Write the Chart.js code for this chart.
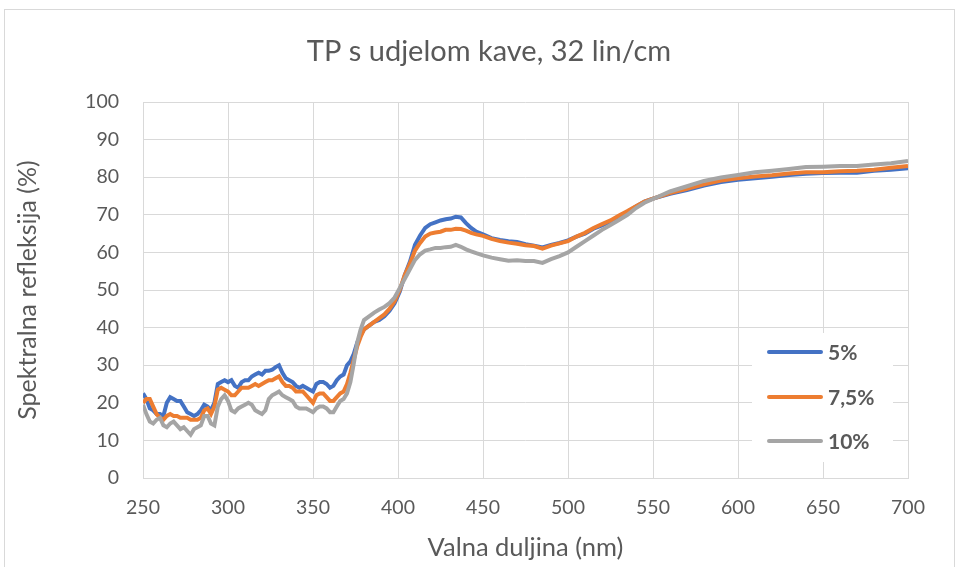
<!DOCTYPE html>
<html>
<head>
<meta charset="utf-8">
<script src="https://cdn.jsdelivr.net/npm/chart.js@4/dist/chart.umd.min.js"></script>
<style>
  html, body { margin: 0; padding: 0; background: #ffffff; }
  #wrap { width: 959px; height: 567px; position: relative; }
</style>
</head>
<body>
<div id="wrap"><canvas id="c" width="959" height="567"></canvas></div>
<script>
const chartTitle = "TP s udjelom kave, 32 lin/cm";
const xTitle = "Valna duljina (nm)";
const yTitle = "Spektralna refleksija (%)";
const seriesLabels = ["5%", "7,5%", "10%"];
const xTicks = [250, 300, 350, 400, 450, 500, 550, 600, 650, 700];
const yTicks = [0, 10, 20, 30, 40, 50, 60, 70, 80, 90, 100];

const wavelengths = [
  250,252,254,256,258,260,262,264,266,268,270,272,274,276,278,280,282,284,286,288,
  290,292,294,296,298,300,302,304,306,308,310,312,314,316,318,320,322,324,326,328,
  330,332,334,336,338,340,342,344,346,348,350,352,354,356,358,360,362,364,366,368,
  370,372,374,376,378,380,383,386,389,392,395,398,401,404,407,410,413,416,419,422,
  425,428,431,434,437,440,443,446,450,455,460,465,470,475,480,485,490,495,500,505,
  510,515,520,525,530,535,540,545,550,560,570,580,590,600,610,620,630,640,650,660,
  670,680,690,700
];

const r5 = [
  22.5,21,18.5,18,17,17,16.5,20,21.5,21,20.5,20.5,19,17.5,17,16.5,17,18,19.5,19,
  18,20,25,25.5,26,25.5,26,24.5,24,25.5,26,26,27,27.5,28,27.5,28.5,28.5,28.8,29.5,
  30,28,26.5,26,25.5,24.5,24,24.5,24,23.5,23,25,25.5,25.5,25,24,24.5,26,27,27.5,
  30,31,33,36,38,39.5,40.5,41.5,42,43,44.5,46.5,49.5,54,57.5,62,64.5,66.5,67.5,68,
  68.5,68.8,69,69.5,69.3,67.8,66.5,65.5,64.8,63.8,63.3,63,62.8,62.2,61.8,61.3,62,62.5,63.2,64.2,
  65,66.3,67.2,68.2,69.5,70.8,72.2,73.5,74.3,75.6,76.6,77.8,78.7,79.3,79.7,80.1,80.6,80.9,81.1,81.2,
  81.2,81.7,82,82.4
];

const r75 = [
  20,21,21,19,17,16,15.5,16.5,17,16.5,16.5,16,16,16,15.5,15.5,15.5,16,18,18.5,
  17,19,23.5,24,23.5,23,22,22,23,24,24,24,24.5,25,24.5,25,25.5,26,26,26.5,
  27,25.5,24.5,24.5,24,23,23,23,22,21,20,22,22.5,22.5,21.5,20.5,20.5,21.5,22.5,23,
  25,28,31.5,35,37.5,39.5,40.5,41.5,42.5,43.5,45,47,50,54,57,60.5,62.5,64.2,65,65.3,
  65.5,66,66,66.3,66.2,65.8,65.2,64.8,64.4,63.6,63,62.6,62.3,61.9,61.7,61,61.8,62.4,63,64.2,
  65.2,66.5,67.5,68.5,69.8,71,72.3,73.5,74.3,75.8,76.9,78.1,79.1,79.7,80.2,80.5,81,81.3,81.3,81.6,
  81.7,82,82.5,83
];

const r10 = [
  19.5,17,15,14.5,15.5,16,14,13.5,14.5,15,14,13,13.5,12.5,11.5,13,13.5,14,16.5,16.5,
  14.5,14,19,21,22,20.5,18,17.5,18.5,19,19.5,20,19.5,18,17.5,17,18,21,22,22.5,
  23,22,21.5,21,20.5,19,18.5,18.5,18.5,18,17.5,18.5,19,19,18.5,17.5,17.5,19,20.5,21,
  22.5,25.5,30.5,36,39.5,42,43,44,44.8,45.5,46.5,48,50.5,53,55.5,58,59.5,60.5,60.8,61.2,
  61.2,61.4,61.5,62,61.5,60.8,60.3,59.8,59.2,58.6,58.2,57.8,57.9,57.7,57.7,57.2,58.2,59,60,61.5,
  63,64.5,66,67.3,68.6,70,71.8,73.2,74.2,76.2,77.6,79,79.9,80.6,81.3,81.7,82.2,82.7,82.8,83,
  83,83.4,83.7,84.3
];

const colors = ["#4472C4", "#ED7D31", "#A5A5A5"];
const seriesValues = [r5, r75, r10];

const datasets = seriesValues.map((vals, i) => ({
  label: seriesLabels[i],
  data: wavelengths.map((w, j) => ({ x: w, y: vals[j] })),
  borderColor: colors[i],
  backgroundColor: colors[i],
  borderWidth: 4,
  pointRadius: 0,
  tension: 0,
  fill: false,
  order: 3 - i
}));

const textColor = "#595959";
const gridColor = "#D9D9D9";
const fontFamily = "Lato, 'Open Sans', sans-serif";

const bgPlugin = {
  id: 'bg',
  beforeDraw(chart) {
    const ctx = chart.ctx;
    ctx.save();
    ctx.fillStyle = '#ffffff';
    ctx.fillRect(0, 0, chart.width, chart.height);
    ctx.strokeStyle = gridColor;
    ctx.lineWidth = 1;
    ctx.strokeRect(4.5, 9.5, 950, 570);
    ctx.fillStyle = textColor;
    ctx.font = "29px " + fontFamily;
    ctx.textAlign = 'center';
    ctx.textBaseline = 'middle';
    ctx.fillText(chartTitle, 489, 52);
    ctx.restore();
  }
};

const legendPlugin = {
  id: 'insideLegend',
  afterDatasetsDraw(chart) {
    const ctx = chart.ctx;
    ctx.save();
    ctx.fillStyle = '#ffffff';
    ctx.fillRect(752, 333, 141, 129);
    const ys = [352, 397, 441];
    chart.data.datasets.forEach((ds, i) => {
      ctx.strokeStyle = ds.borderColor;
      ctx.lineWidth = 4;
      ctx.lineCap = 'round';
      ctx.beginPath();
      ctx.moveTo(769, ys[i]);
      ctx.lineTo(821, ys[i]);
      ctx.stroke();
      ctx.fillStyle = textColor;
      ctx.font = "bold 21px " + fontFamily;
      ctx.textBaseline = 'middle';
      ctx.textAlign = 'left';
      ctx.fillText(ds.label, 828, ys[i] + 1);
    });
    ctx.restore();
  }
};

new Chart(document.getElementById('c'), {
  type: 'line',
  data: { datasets },
  plugins: [bgPlugin, legendPlugin],
  options: {
    responsive: false,
    animation: false,
    events: [],
    layout: { padding: { left: 0, right: 51, top: 102, bottom: 0 } },
    plugins: {
      legend: { display: false },
      tooltip: { enabled: false },
      title: { display: false }
    },
    scales: {
      x: {
        type: 'linear',
        min: 250, max: 700,
        afterBuildTicks(scale) { scale.ticks = xTicks.map(v => ({ value: v })); },
        afterFit(scale) { scale.height = 89; },
        grid: { color: gridColor, drawTicks: false, lineWidth: 1 },
        border: { display: true, color: gridColor },
        ticks: { color: textColor, font: { family: fontFamily, size: 19.5 }, padding: 18, maxRotation: 0 },
        title: { display: true, text: xTitle, color: textColor, font: { family: fontFamily, size: 25.5 }, padding: { top: 0, bottom: 4 } }
      },
      y: {
        min: 0, max: 100,
        afterBuildTicks(scale) { scale.ticks = yTicks.map(v => ({ value: v })); },
        afterFit(scale) { scale.width = 143; },
        grid: { color: gridColor, drawTicks: false, lineWidth: 1 },
        border: { display: false },
        ticks: { color: textColor, font: { family: fontFamily, size: 19.5 }, padding: 24 },
        title: { display: true, text: yTitle, color: textColor, font: { family: fontFamily, size: 25 }, padding: { top: 13, bottom: 0 } }
      }
    }
  }
});
</script>
</body>
</html>
